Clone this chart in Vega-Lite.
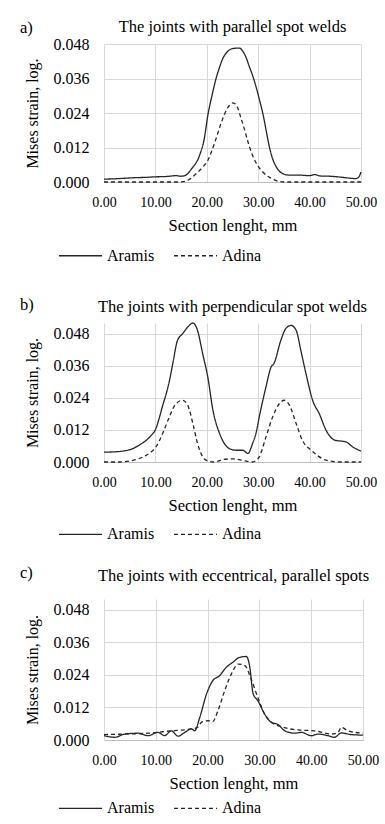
{
  "$schema": "https://vega.github.io/schema/vega-lite/v6.json",
  "padding": {"left": 20, "top": 18, "right": 0, "bottom": 0},
  "spacing": 22,
  "resolve": {"scale": {"strokeDash": "independent"}, "legend": {"strokeDash": "independent"}},
  "config": {
    "font": "Liberation Serif",
    "view": {"stroke": null},
    "axis": {
      "labelFont": "Liberation Serif",
      "titleFont": "Liberation Serif",
      "labelColor": "black",
      "titleColor": "black",
      "titleFontWeight": "normal",
      "labelFlush": false,
      "gridColor": "#d9d9d9",
      "gridWidth": 1,
      "ticks": false,
      "domainColor": "#bfbfbf"
    },
    "axisX": {"labelFont": "Liberation Serif", "labelFontSize": 14, "labelPadding": 13, "titleFontSize": 16.5, "titlePadding": 8},
    "axisY": {"labelFont": "Liberation Serif", "labelFontSize": 16, "labelPadding": 15, "titleFontSize": 16, "titlePadding": 13, "domain": false},
    "title": {"font": "Liberation Serif", "fontWeight": "normal", "fontSize": 16.5, "color": "black"},
    "legend": {
      "orient": "none",
      "direction": "horizontal",
      "symbolType": "stroke",
      "symbolSize": 1849,
      "symbolStrokeWidth": 1.3,
      "symbolStrokeColor": "#262626",
      "labelFont": "Liberation Serif",
      "labelFontSize": 16,
      "labelColor": "black",
      "labelOffset": 4,
      "columnPadding": 16,
      "padding": 0
    }
  },
  "datasets": {
    "parallel": [
      {"length": 0, "strain": 0.0010, "series": "Aramis"},
      {"length": 2, "strain": 0.0011, "series": "Aramis"},
      {"length": 4, "strain": 0.0013, "series": "Aramis"},
      {"length": 6, "strain": 0.0015, "series": "Aramis"},
      {"length": 8, "strain": 0.0016, "series": "Aramis"},
      {"length": 10, "strain": 0.0018, "series": "Aramis"},
      {"length": 12, "strain": 0.0019, "series": "Aramis"},
      {"length": 14, "strain": 0.0022, "series": "Aramis"},
      {"length": 15, "strain": 0.0020, "series": "Aramis"},
      {"length": 16, "strain": 0.0025, "series": "Aramis"},
      {"length": 17, "strain": 0.0045, "series": "Aramis"},
      {"length": 18.6, "strain": 0.0093, "series": "Aramis"},
      {"length": 19.5, "strain": 0.0150, "series": "Aramis"},
      {"length": 20.2, "strain": 0.0232, "series": "Aramis"},
      {"length": 21, "strain": 0.0300, "series": "Aramis"},
      {"length": 21.8, "strain": 0.0360, "series": "Aramis"},
      {"length": 22.5, "strain": 0.0400, "series": "Aramis"},
      {"length": 23.1, "strain": 0.0429, "series": "Aramis"},
      {"length": 24, "strain": 0.0453, "series": "Aramis"},
      {"length": 25, "strain": 0.0464, "series": "Aramis"},
      {"length": 26.3, "strain": 0.0466, "series": "Aramis"},
      {"length": 27, "strain": 0.0455, "series": "Aramis"},
      {"length": 27.6, "strain": 0.0435, "series": "Aramis"},
      {"length": 28.3, "strain": 0.0400, "series": "Aramis"},
      {"length": 28.9, "strain": 0.0371, "series": "Aramis"},
      {"length": 29.6, "strain": 0.0330, "series": "Aramis"},
      {"length": 30.2, "strain": 0.0289, "series": "Aramis"},
      {"length": 31, "strain": 0.0230, "series": "Aramis"},
      {"length": 31.6, "strain": 0.0174, "series": "Aramis"},
      {"length": 32.2, "strain": 0.0120, "series": "Aramis"},
      {"length": 32.8, "strain": 0.0081, "series": "Aramis"},
      {"length": 33.6, "strain": 0.0050, "series": "Aramis"},
      {"length": 34.8, "strain": 0.0029, "series": "Aramis"},
      {"length": 36, "strain": 0.0024, "series": "Aramis"},
      {"length": 38, "strain": 0.0024, "series": "Aramis"},
      {"length": 40, "strain": 0.0022, "series": "Aramis"},
      {"length": 41, "strain": 0.0026, "series": "Aramis"},
      {"length": 42, "strain": 0.0021, "series": "Aramis"},
      {"length": 44, "strain": 0.0020, "series": "Aramis"},
      {"length": 46, "strain": 0.0017, "series": "Aramis"},
      {"length": 48, "strain": 0.0013, "series": "Aramis"},
      {"length": 49, "strain": 0.0012, "series": "Aramis"},
      {"length": 49.6, "strain": 0.0018, "series": "Aramis"},
      {"length": 50, "strain": 0.0035, "series": "Aramis"},
      {"length": 0, "strain": 0, "series": "Adina"},
      {"length": 5, "strain": 0, "series": "Adina"},
      {"length": 10, "strain": 0, "series": "Adina"},
      {"length": 14, "strain": 0, "series": "Adina"},
      {"length": 15.5, "strain": 0.0001, "series": "Adina"},
      {"length": 16.5, "strain": 0.0008, "series": "Adina"},
      {"length": 17.5, "strain": 0.0022, "series": "Adina"},
      {"length": 18.6, "strain": 0.0040, "series": "Adina"},
      {"length": 19.5, "strain": 0.0058, "series": "Adina"},
      {"length": 20.2, "strain": 0.0075, "series": "Adina"},
      {"length": 21, "strain": 0.0110, "series": "Adina"},
      {"length": 21.8, "strain": 0.0151, "series": "Adina"},
      {"length": 22.5, "strain": 0.0190, "series": "Adina"},
      {"length": 23.1, "strain": 0.0220, "series": "Adina"},
      {"length": 23.8, "strain": 0.0250, "series": "Adina"},
      {"length": 24.4, "strain": 0.0266, "series": "Adina"},
      {"length": 25, "strain": 0.0275, "series": "Adina"},
      {"length": 25.5, "strain": 0.0272, "series": "Adina"},
      {"length": 26, "strain": 0.0258, "series": "Adina"},
      {"length": 26.6, "strain": 0.0225, "series": "Adina"},
      {"length": 27.3, "strain": 0.0185, "series": "Adina"},
      {"length": 28, "strain": 0.0140, "series": "Adina"},
      {"length": 28.9, "strain": 0.0093, "series": "Adina"},
      {"length": 29.8, "strain": 0.0060, "series": "Adina"},
      {"length": 30.9, "strain": 0.0035, "series": "Adina"},
      {"length": 32, "strain": 0.0018, "series": "Adina"},
      {"length": 32.8, "strain": 0.0011, "series": "Adina"},
      {"length": 34, "strain": 0.0002, "series": "Adina"},
      {"length": 35, "strain": 0, "series": "Adina"},
      {"length": 40, "strain": 0, "series": "Adina"},
      {"length": 45, "strain": 0, "series": "Adina"},
      {"length": 50, "strain": 0, "series": "Adina"}
    ],
    "perpendicular": [
      {"length": 0, "strain": 0.0037, "series": "Aramis"},
      {"length": 2, "strain": 0.0038, "series": "Aramis"},
      {"length": 4, "strain": 0.0042, "series": "Aramis"},
      {"length": 5.6, "strain": 0.0050, "series": "Aramis"},
      {"length": 7, "strain": 0.0065, "series": "Aramis"},
      {"length": 8.2, "strain": 0.0081, "series": "Aramis"},
      {"length": 9.2, "strain": 0.0100, "series": "Aramis"},
      {"length": 10.1, "strain": 0.0125, "series": "Aramis"},
      {"length": 10.8, "strain": 0.0168, "series": "Aramis"},
      {"length": 11.4, "strain": 0.0210, "series": "Aramis"},
      {"length": 12.1, "strain": 0.0255, "series": "Aramis"},
      {"length": 12.8, "strain": 0.0310, "series": "Aramis"},
      {"length": 13.4, "strain": 0.0370, "series": "Aramis"},
      {"length": 14.3, "strain": 0.0455, "series": "Aramis"},
      {"length": 15.3, "strain": 0.0480, "series": "Aramis"},
      {"length": 16.3, "strain": 0.0505, "series": "Aramis"},
      {"length": 17.3, "strain": 0.0520, "series": "Aramis"},
      {"length": 18.2, "strain": 0.0492, "series": "Aramis"},
      {"length": 19.2, "strain": 0.0405, "series": "Aramis"},
      {"length": 20.2, "strain": 0.0317, "series": "Aramis"},
      {"length": 21.2, "strain": 0.0193, "series": "Aramis"},
      {"length": 22.5, "strain": 0.0106, "series": "Aramis"},
      {"length": 23.4, "strain": 0.0070, "series": "Aramis"},
      {"length": 24.4, "strain": 0.0050, "series": "Aramis"},
      {"length": 25.7, "strain": 0.0044, "series": "Aramis"},
      {"length": 27, "strain": 0.0044, "series": "Aramis"},
      {"length": 28, "strain": 0.0032, "series": "Aramis"},
      {"length": 28.9, "strain": 0.0069, "series": "Aramis"},
      {"length": 29.6, "strain": 0.0110, "series": "Aramis"},
      {"length": 30.2, "strain": 0.0168, "series": "Aramis"},
      {"length": 31.5, "strain": 0.0280, "series": "Aramis"},
      {"length": 32.5, "strain": 0.0355, "series": "Aramis"},
      {"length": 33.1, "strain": 0.0370, "series": "Aramis"},
      {"length": 34.4, "strain": 0.0455, "series": "Aramis"},
      {"length": 35.4, "strain": 0.0500, "series": "Aramis"},
      {"length": 36.4, "strain": 0.0511, "series": "Aramis"},
      {"length": 37.4, "strain": 0.0492, "series": "Aramis"},
      {"length": 38.3, "strain": 0.0417, "series": "Aramis"},
      {"length": 39.3, "strain": 0.0330, "series": "Aramis"},
      {"length": 40.6, "strain": 0.0230, "series": "Aramis"},
      {"length": 41.9, "strain": 0.0180, "series": "Aramis"},
      {"length": 43.2, "strain": 0.0119, "series": "Aramis"},
      {"length": 45, "strain": 0.0081, "series": "Aramis"},
      {"length": 46.2, "strain": 0.0078, "series": "Aramis"},
      {"length": 47.1, "strain": 0.0075, "series": "Aramis"},
      {"length": 48.4, "strain": 0.0056, "series": "Aramis"},
      {"length": 50, "strain": 0.0041, "series": "Aramis"},
      {"length": 0, "strain": 0, "series": "Adina"},
      {"length": 3, "strain": 0, "series": "Adina"},
      {"length": 5.6, "strain": 0.0006, "series": "Adina"},
      {"length": 7, "strain": 0.0014, "series": "Adina"},
      {"length": 8.2, "strain": 0.0025, "series": "Adina"},
      {"length": 9.2, "strain": 0.0038, "series": "Adina"},
      {"length": 10.1, "strain": 0.0056, "series": "Adina"},
      {"length": 11.4, "strain": 0.0106, "series": "Adina"},
      {"length": 12.7, "strain": 0.0168, "series": "Adina"},
      {"length": 14, "strain": 0.0218, "series": "Adina"},
      {"length": 15.3, "strain": 0.0231, "series": "Adina"},
      {"length": 16.3, "strain": 0.0212, "series": "Adina"},
      {"length": 17.3, "strain": 0.0143, "series": "Adina"},
      {"length": 18.2, "strain": 0.0069, "series": "Adina"},
      {"length": 19.5, "strain": 0.0012, "series": "Adina"},
      {"length": 20.5, "strain": 0.0002, "series": "Adina"},
      {"length": 21.2, "strain": 0, "series": "Adina"},
      {"length": 22, "strain": 0.0002, "series": "Adina"},
      {"length": 23.1, "strain": 0.0009, "series": "Adina"},
      {"length": 25, "strain": 0.0012, "series": "Adina"},
      {"length": 27, "strain": 0.0006, "series": "Adina"},
      {"length": 28.2, "strain": 0.0001, "series": "Adina"},
      {"length": 28.9, "strain": 0, "series": "Adina"},
      {"length": 29.6, "strain": 0.0006, "series": "Adina"},
      {"length": 30.2, "strain": 0.0019, "series": "Adina"},
      {"length": 31.5, "strain": 0.0093, "series": "Adina"},
      {"length": 32.8, "strain": 0.0168, "series": "Adina"},
      {"length": 34.1, "strain": 0.0218, "series": "Adina"},
      {"length": 35.1, "strain": 0.0231, "series": "Adina"},
      {"length": 36.1, "strain": 0.0212, "series": "Adina"},
      {"length": 37.4, "strain": 0.0143, "series": "Adina"},
      {"length": 38.6, "strain": 0.0081, "series": "Adina"},
      {"length": 40.3, "strain": 0.0044, "series": "Adina"},
      {"length": 41.5, "strain": 0.0025, "series": "Adina"},
      {"length": 42.5, "strain": 0.0012, "series": "Adina"},
      {"length": 44.5, "strain": 0.0002, "series": "Adina"},
      {"length": 46, "strain": 0, "series": "Adina"},
      {"length": 50, "strain": 0, "series": "Adina"}
    ],
    "eccentric": [
      {"length": 0, "strain": 0.0016, "series": "Aramis"},
      {"length": 2.1, "strain": 0.0010, "series": "Aramis"},
      {"length": 4, "strain": 0.0022, "series": "Aramis"},
      {"length": 6.6, "strain": 0.0025, "series": "Aramis"},
      {"length": 8.5, "strain": 0.0016, "series": "Aramis"},
      {"length": 10.4, "strain": 0.0028, "series": "Aramis"},
      {"length": 11.7, "strain": 0.0016, "series": "Aramis"},
      {"length": 13, "strain": 0.0034, "series": "Aramis"},
      {"length": 14.3, "strain": 0.0014, "series": "Aramis"},
      {"length": 15.6, "strain": 0.0028, "series": "Aramis"},
      {"length": 16.9, "strain": 0.0041, "series": "Aramis"},
      {"length": 17.5, "strain": 0.0034, "series": "Aramis"},
      {"length": 18.5, "strain": 0.0084, "series": "Aramis"},
      {"length": 19.8, "strain": 0.0170, "series": "Aramis"},
      {"length": 21, "strain": 0.0219, "series": "Aramis"},
      {"length": 22.3, "strain": 0.0237, "series": "Aramis"},
      {"length": 23.6, "strain": 0.0268, "series": "Aramis"},
      {"length": 24.9, "strain": 0.0287, "series": "Aramis"},
      {"length": 26.2, "strain": 0.0305, "series": "Aramis"},
      {"length": 27.5, "strain": 0.0308, "series": "Aramis"},
      {"length": 28.1, "strain": 0.0274, "series": "Aramis"},
      {"length": 28.8, "strain": 0.0170, "series": "Aramis"},
      {"length": 29.7, "strain": 0.0145, "series": "Aramis"},
      {"length": 31, "strain": 0.0096, "series": "Aramis"},
      {"length": 32.3, "strain": 0.0065, "series": "Aramis"},
      {"length": 33.6, "strain": 0.0057, "series": "Aramis"},
      {"length": 34.9, "strain": 0.0034, "series": "Aramis"},
      {"length": 36.8, "strain": 0.0025, "series": "Aramis"},
      {"length": 38.1, "strain": 0.0028, "series": "Aramis"},
      {"length": 40, "strain": 0.0016, "series": "Aramis"},
      {"length": 41.3, "strain": 0.0022, "series": "Aramis"},
      {"length": 43.2, "strain": 0.0016, "series": "Aramis"},
      {"length": 44.5, "strain": 0.0010, "series": "Aramis"},
      {"length": 45.8, "strain": 0.0026, "series": "Aramis"},
      {"length": 47.7, "strain": 0.0020, "series": "Aramis"},
      {"length": 50, "strain": 0.0018, "series": "Aramis"},
      {"length": 0, "strain": 0.0020, "series": "Adina"},
      {"length": 4, "strain": 0.0022, "series": "Adina"},
      {"length": 8.5, "strain": 0.0025, "series": "Adina"},
      {"length": 13, "strain": 0.0034, "series": "Adina"},
      {"length": 16.9, "strain": 0.0041, "series": "Adina"},
      {"length": 18.1, "strain": 0.0047, "series": "Adina"},
      {"length": 18.8, "strain": 0.0065, "series": "Adina"},
      {"length": 20.1, "strain": 0.0071, "series": "Adina"},
      {"length": 21, "strain": 0.0068, "series": "Adina"},
      {"length": 22, "strain": 0.0108, "series": "Adina"},
      {"length": 23.3, "strain": 0.0182, "series": "Adina"},
      {"length": 24.6, "strain": 0.0244, "series": "Adina"},
      {"length": 25.9, "strain": 0.0280, "series": "Adina"},
      {"length": 27.2, "strain": 0.0274, "series": "Adina"},
      {"length": 28.4, "strain": 0.0225, "series": "Adina"},
      {"length": 29.7, "strain": 0.0157, "series": "Adina"},
      {"length": 31, "strain": 0.0096, "series": "Adina"},
      {"length": 32.6, "strain": 0.0062, "series": "Adina"},
      {"length": 34.2, "strain": 0.0049, "series": "Adina"},
      {"length": 37.5, "strain": 0.0037, "series": "Adina"},
      {"length": 40.7, "strain": 0.0034, "series": "Adina"},
      {"length": 43.9, "strain": 0.0022, "series": "Adina"},
      {"length": 45.2, "strain": 0.0028, "series": "Adina"},
      {"length": 45.8, "strain": 0.0047, "series": "Adina"},
      {"length": 47.1, "strain": 0.0034, "series": "Adina"},
      {"length": 50, "strain": 0.0025, "series": "Adina"}
    ]
  },
  "vconcat": [
    {
      "title": {"text": "a)", "anchor": "start", "frame": "bounds", "dx": -4, "dy": 22},
      "resolve": {"scale": {"strokeDash": "independent"}, "legend": {"strokeDash": "independent"}},
      "vconcat": [
        {
          "width": 257,
          "height": 138,
          "title": {"text": "The joints with parallel spot welds", "offset": 1},
          "data": {"name": "parallel"},
          "mark": {"type": "line", "interpolate": "monotone", "strokeWidth": 1.3, "color": "#262626"},
          "encoding": {
            "x": {"field": "length", "type": "quantitative", "scale": {"domain": [0, 50], "nice": false},
                  "axis": {"values": [0, 10, 20, 30, 40, 50], "format": ".2f", "title": "Section lenght, mm", "labelFont": "Liberation Serif"}},
            "y": {"field": "strain", "type": "quantitative", "scale": {"domain": [0, 0.048], "nice": false},
                  "axis": {"values": [0, 0.012, 0.024, 0.036, 0.048], "format": ".3f", "title": "Mises strain, log.", "labelFont": "Liberation Serif"}},
            "strokeDash": {"field": "series", "type": "nominal",
                           "scale": {"domain": ["Aramis", "Adina"], "range": [[1, 0], [4, 3]]},
                           "legend": {"title": null, "legendX": -57, "legendY": 178, "padding": 11}}
          }
        }
      ]
    },
    {
      "title": {"text": "b)", "anchor": "start", "frame": "bounds", "dx": -4, "dy": 19},
      "resolve": {"scale": {"strokeDash": "independent"}, "legend": {"strokeDash": "independent"}},
      "vconcat": [
        {
          "width": 257,
          "height": 139,
          "title": {"text": "The joints with perpendicular spot welds", "offset": 5},
          "data": {"name": "perpendicular"},
          "mark": {"type": "line", "interpolate": "monotone", "strokeWidth": 1.3, "color": "#262626"},
          "encoding": {
            "x": {"field": "length", "type": "quantitative", "scale": {"domain": [0, 50], "nice": false},
                  "axis": {"values": [0, 10, 20, 30, 40, 50], "format": ".2f", "title": "Section lenght, mm", "labelFont": "Liberation Serif"}},
            "y": {"field": "strain", "type": "quantitative", "scale": {"domain": [0, 0.052], "nice": false},
                  "axis": {"values": [0, 0.012, 0.024, 0.036, 0.048], "format": ".3f", "title": "Mises strain, log.", "labelFont": "Liberation Serif"}},
            "strokeDash": {"field": "series", "type": "nominal",
                           "scale": {"domain": ["Aramis", "Adina"], "range": [[1, 0], [4, 3]]},
                           "legend": {"title": null, "legendX": -46, "legendY": 188.6}}
          }
        }
      ]
    },
    {
      "title": {"text": "c)", "anchor": "start", "frame": "bounds", "dx": -4, "dy": 18},
      "resolve": {"scale": {"strokeDash": "independent"}, "legend": {"strokeDash": "independent"}},
      "vconcat": [
        {
          "width": 259,
          "height": 141,
          "title": {"text": "The joints with eccentrical, parallel spots", "offset": 15},
          "data": {"name": "eccentric"},
          "mark": {"type": "line", "interpolate": "monotone", "strokeWidth": 1.3, "color": "#262626"},
          "encoding": {
            "x": {"field": "length", "type": "quantitative", "scale": {"domain": [0, 50], "nice": false},
                  "axis": {"values": [0, 10, 20, 30, 40, 50], "format": ".2f", "title": "Section lenght, mm", "labelFont": "Liberation Serif"}},
            "y": {"field": "strain", "type": "quantitative", "scale": {"domain": [0, 0.052], "nice": false},
                  "axis": {"values": [0, 0.012, 0.024, 0.036, 0.048], "format": ".3f", "title": "Mises strain, log.", "labelFont": "Liberation Serif"}},
            "strokeDash": {"field": "series", "type": "nominal",
                           "scale": {"domain": ["Aramis", "Adina"], "range": [[1, 0], [4, 3]]},
                           "legend": {"title": null, "legendX": -46, "legendY": 186.7}}
          }
        }
      ]
    }
  ]
}
